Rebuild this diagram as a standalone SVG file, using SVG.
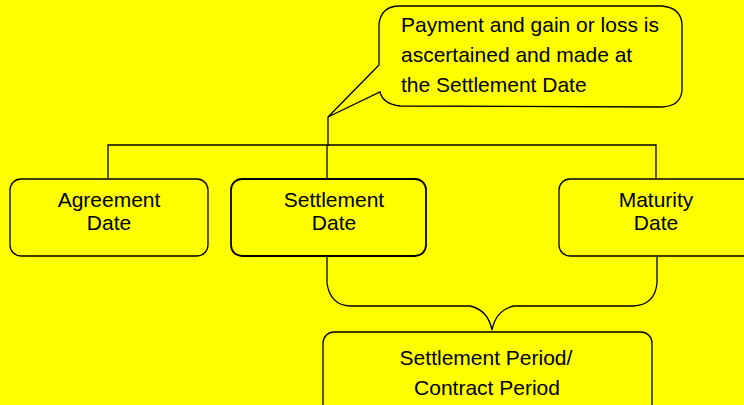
<svg xmlns="http://www.w3.org/2000/svg" width="744" height="405" viewBox="0 0 744 405">
<style>
.box{fill:#ffff00;stroke:#000;stroke-width:1.3}
.line{fill:none;stroke:#000;stroke-width:1.3}
text{font-family:"Liberation Sans",Arial,sans-serif;font-size:21px;fill:#000}
.c{text-anchor:middle}
</style>
<rect width="744" height="405" fill="#ffff00"/>
<g id="connectors">
<path class="line" d="M328,117 V146 M108,178 V145 H656 V178 M327,146 V179"/>
<path class="line" d="M327,257 V283 Q330,305 350,306 H470 Q488,310 492,330 Q496,310 514,306 H633 Q655,305 657,283 V257"/>
</g>
<g id="callout">
<path class="box" d="M379,65 L328,117 L380,92 Q383,104 400,106 L662,107 Q681,106 682,90 L682,24 Q681,8 662,6 L398,6 Q381,7 379,24 Z"/>
<text x="401" y="32">Payment and gain or loss is</text>
<text x="401" y="62">ascertained and made at</text>
<text x="401" y="92">the Settlement Date</text>
</g>
<g id="agreement">
<rect class="box" x="10" y="179" width="198" height="77" rx="11"/>
<text class="c" x="109" y="207">Agreement</text>
<text class="c" x="109" y="230">Date</text>
</g>
<g id="settlement">
<rect class="box" x="231" y="179" width="195" height="77" rx="11" style="stroke-width:1.8"/>
<text class="c" x="334" y="207">Settlement</text>
<text class="c" x="334" y="230">Date</text>
</g>
<g id="maturity">
<rect class="box" x="559" y="179" width="200" height="77" rx="11"/>
<text class="c" x="656" y="207">Maturity</text>
<text class="c" x="656" y="230">Date</text>
</g>
<g id="period">
<rect class="box" x="323" y="332" width="329" height="90" rx="11"/>
<text class="c" x="486" y="365">Settlement Period/</text>
<text class="c" x="487" y="395">Contract Period</text>
</g>
</svg>
